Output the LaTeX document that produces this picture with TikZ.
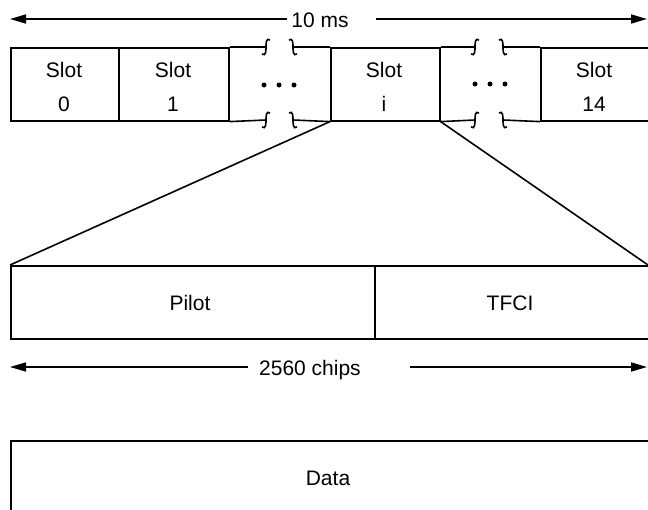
\documentclass[tikz,border=0pt]{standalone}
\usepackage{fontspec}
\setmainfont{Liberation Sans}
\usetikzlibrary{arrows.meta}
\begin{document}
\begin{tikzpicture}[x=1pt,y=-1pt,line width=1.6pt,
  box/.style={draw,rectangle,inner sep=0pt,anchor=north west},
  lbl/.style={font=\fontsize{21}{24}\selectfont,inner sep=0pt,anchor=base},
  dim/.style={-{Triangle[length=16pt,width=9pt]}},
  dotnode/.style={circle,fill,inner sep=0pt,minimum size=5pt},
  brkL/.pic={\draw (4,-7) .. controls (0,-10) and (0,-3) .. (0,0) .. controls (0,3) and (0,10) .. (-4,7);},
  brkR/.pic={\draw (-4,-7) .. controls (0,-10) and (0,-3) .. (0,0) .. controls (0,3) and (0,10) .. (4,7);}]
\useasboundingbox (0,0) rectangle (648,509);

% top dimension
\coordinate (tl) at (10,19);
\coordinate (tr) at (647,19);
\coordinate (tm1) at (287,19);
\coordinate (tm2) at (376,19);
\node[lbl] (ms) at (320,27) {10 ms};
\draw[dim] (tm1) -- (tl);
\draw[dim] (tm2) -- (tr);

% slot boxes
\node[box,minimum width=108pt,minimum height=73pt] (s0) at (10,47) {};
\node[box,minimum width=110pt,minimum height=73pt] (s1) at (118,47) {};
\node[box,minimum width=109pt,minimum height=73pt] (si) at (330,47) {};
\node[box,minimum width=110pt,minimum height=73pt] (s14) at (540,47) {};

\node[lbl] (l0a) at (64,77) {Slot};
\node[lbl] (l0b) at (64,111) {0};
\node[lbl] (l1a) at (173,77) {Slot};
\node[lbl] (l1b) at (173,111) {1};
\node[lbl] (lia) at (384,77) {Slot};
\node[lbl] (lib) at (384,111) {i};
\node[lbl] (l14a) at (594,77) {Slot};
\node[lbl] (l14b) at (594,111) {14};

% broken gaps
\coordinate (g1a) at (266,47);
\coordinate (g1b) at (293,47);
\coordinate (g1c) at (266,120);
\coordinate (g1d) at (293,120);
\draw (s1.north east) -- (g1a);
\draw (g1b) -- (si.north west);
\draw (s1.south east) -- (g1c);
\draw (g1d) -- (si.south west);
\pic at (g1a) {brkL};
\pic at (g1b) {brkR};
\pic at (g1c) {brkL};
\pic at (g1d) {brkR};

\coordinate (g2a) at (475,47);
\coordinate (g2b) at (503,47);
\coordinate (g2c) at (475,120);
\coordinate (g2d) at (503,120);
\draw (si.north east) -- (g2a);
\draw (g2b) -- (s14.north west);
\draw (si.south east) -- (g2c);
\draw (g2d) -- (s14.south west);
\pic at (g2a) {brkL};
\pic at (g2b) {brkR};
\pic at (g2c) {brkL};
\pic at (g2d) {brkR};

\node[dotnode] (d1) at (264,85) {};
\node[dotnode] (d2) at (279,85) {};
\node[dotnode] (d3) at (294,85) {};
\node[dotnode] (d4) at (475,84) {};
\node[dotnode] (d5) at (490,84) {};
\node[dotnode] (d6) at (505,84) {};

% expanded slot
\node[box,minimum width=364pt,minimum height=73pt] (pilot) at (10,265) {};
\node[box,minimum width=276pt,minimum height=73pt] (tfci) at (374,265) {};
\coordinate (tfr) at (648,265);
\draw (si.south west) -- (pilot.north west);
\draw (si.south east) -- (tfr);
\node[lbl] at (190,310) (pl) {Pilot};
\node[lbl] at (510,310) (tl2) {TFCI};

% chips dimension
\coordinate (cl) at (10,367);
\coordinate (cr) at (647,367);
\coordinate (cm1) at (248,367);
\coordinate (cm2) at (410,367);
\node[lbl] (chips) at (310,375) {2560 chips};
\draw[dim] (cm1) -- (cl);
\draw[dim] (cm2) -- (cr);

% data
\node[box,minimum width=660pt,minimum height=100pt] (data) at (10,440) {};
\node[lbl] (dl) at (328,485) {Data};
\end{tikzpicture}
\end{document}
